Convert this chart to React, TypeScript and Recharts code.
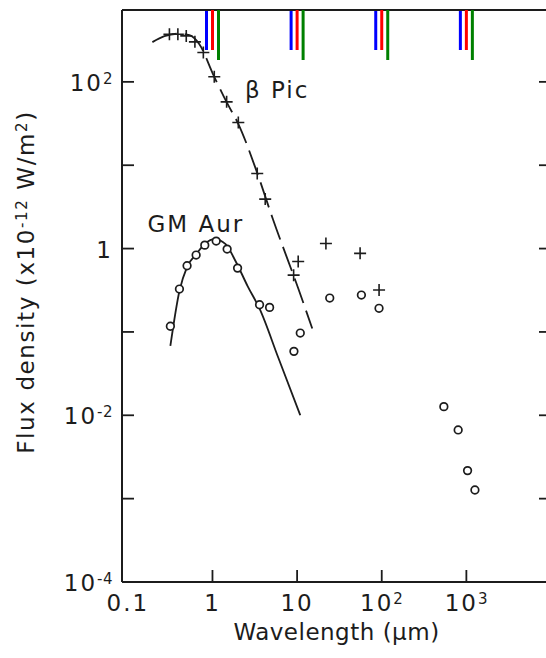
import { ComposedChart, Line, Scatter, XAxis, YAxis, ReferenceDot, ReferenceLine } from "recharts";

const INK = "#1c1c1c";
const FONT = "'DejaVu Sans', sans-serif";

const PIC_WAVE = [0.31, 0.39, 0.49, 0.62, 0.78, 1.05, 1.47, 2.02, 3.38, 4.2, 9.1, 10.3, 21.9, 55.5, 93];
const PIC_FLUX = [373, 373, 356, 302, 225, 115, 57.6, 32.6, 7.97, 3.92, 0.48, 0.7, 1.15, 0.876, 0.318];
const PIC_MODEL_WAVE = [0.195, 0.27, 0.385, 0.535, 0.7, 1.03, 1.47, 2.03, 3.32, 5.17, 10.2, 15.1];
const PIC_MODEL_FLUX = [300, 353, 378, 363, 283, 120, 57, 31, 8.5, 2.26, 0.343, 0.11];
const GM_WAVE = [0.318, 0.407, 0.501, 0.641, 0.811, 1.106, 1.49, 1.98, 3.6, 4.73, 9.17, 10.9, 24.3, 57.5, 92.9, 542, 800, 1033, 1262];
const GM_FLUX = [0.117, 0.327, 0.622, 0.836, 1.1, 1.23, 0.986, 0.583, 0.212, 0.197, 0.0585, 0.097, 0.255, 0.277, 0.192, 0.0127, 0.00667, 0.00217, 0.00127];
const GM_MODEL_WAVE = [0.318, 0.407, 0.5, 0.645, 0.826, 1.055, 1.43, 1.87, 2.6, 3.6, 6, 10.9];
const GM_MODEL_FLUX = [0.068, 0.31, 0.6, 0.86, 1.16, 1.3, 1.13, 0.71, 0.355, 0.19, 0.049, 0.01];

const X_DOMAIN = [0.0853, 10000];
const Y_DOMAIN = [1e-4, 728];
const X_TICKS = [0.1, 1, 10, 100, 1000];
const X_TICK_LABELS = [["0.1", ""], ["1", ""], ["10", ""], ["10", "2"], ["10", "3"]];
const Y_TICKS = [1e-4, 1e-3, 1e-2, 1e-1, 1, 10, 100];
const Y_TICK_LABELS = [["10", "-4"], ["", ""], ["10", "-2"], ["", ""], ["1", ""], ["", ""], ["10", "2"]];

const STAR_NAMES = ["β Pic", "GM Aur"];
const NAME_X = [2.45, 0.173];
const NAME_Y = [63.5, 1.54];

const zip = (xs: number[], ys: number[]) => xs.map((x, i) => ({ x, y: ys[i] }));
const picPoints = zip(PIC_WAVE, PIC_FLUX);
const picModel = zip(PIC_MODEL_WAVE, PIC_MODEL_FLUX);
const gmPoints = zip(GM_WAVE, GM_FLUX);
const gmModel = zip(GM_MODEL_WAVE, GM_MODEL_FLUX);
const topMarks = X_TICKS.slice(1).map((x) => ({ x, y: Y_DOMAIN[1] }));

function PowerLabel({ x, y, anchor, base, sup }: any) {
  return (
    <text x={x} y={y} textAnchor={anchor} fontFamily={FONT} fontSize={23} fill={INK} letterSpacing={2}>
      {base}
      {sup ? (
        <tspan dy={-7} fontSize={15} letterSpacing={0.5}>
          {sup}
        </tspan>
      ) : null}
    </text>
  );
}

const BottomTick = ({ x, y, payload }: any) => {
  const i = X_TICKS.indexOf(payload.value);
  const [base, sup] = X_TICK_LABELS[i] ?? ["", ""];
  return (
    <g>
      {i > 0 && <line x1={x} x2={x} y1={y} y2={y - 12} stroke={INK} strokeWidth={1.8} />}
      {i > 0 && <line x1={x + 6} x2={x + 6} y1={10} y2={60} stroke="green" strokeWidth={3} />}
      <PowerLabel x={x} y={y + 29} anchor="middle" base={base} sup={sup} />
    </g>
  );
};

const TopMark = ({ cx, cy }: any) => <path d={`M${cx},${cy}v40`} stroke="red" strokeWidth={3} fill="none" />;
const RefMark = (p: any) => {
  const top = Math.min(p.y1, p.y2);
  return <line x1={p.x1 - 6} x2={p.x1 - 6} y1={top} y2={top + 40} stroke="blue" strokeWidth={3} />;
};

const LeftTick = ({ x, y, payload }: any) => {
  const i = Y_TICKS.indexOf(payload.value);
  const [base, sup] = Y_TICK_LABELS[i] ?? ["", ""];
  return (
    <g>
      {i > 0 && <line x1={x} x2={x + 12} y1={y} y2={y} stroke={INK} strokeWidth={1.8} />}
      {base && <PowerLabel x={x - 9} y={y + 9} anchor="end" base={base} sup={sup} />}
    </g>
  );
};

const RightTick = ({ x, y, payload }: any) =>
  payload.value > 1e-4 ? <line x1={x} x2={x - 12} y1={y} y2={y} stroke={INK} strokeWidth={1.8} /> : <g />;

const Plus = ({ cx, cy }: any) => (
  <path d={`M${cx - 6},${cy}h12M${cx},${cy - 6}v12`} stroke={INK} strokeWidth={1.6} fill="none" />
);
const Ring = ({ cx, cy }: any) => <circle cx={cx} cy={cy} r={3.8} fill="#fff" stroke={INK} strokeWidth={1.7} />;

const XTitle = ({ viewBox }: any) => (
  <text x={viewBox.x + viewBox.width / 2} y={viewBox.y + 58} textAnchor="middle" fontFamily={FONT} fontSize={23} fill={INK} letterSpacing={0.5}>
    Wavelength (μm)
  </text>
);

const YTitle = () => (
  <text transform="translate(34,282) rotate(-90)" textAnchor="middle" fontFamily={FONT} fontSize={23} fill={INK} letterSpacing={1.6}>
    Flux density (x10
    <tspan dy={-7} fontSize={15}>-12</tspan>
    <tspan dy={7}> W/m</tspan>
    <tspan dy={-7} fontSize={15}>2</tspan>
    <tspan dy={7}>)</tspan>
  </text>
);

const axisLine = { stroke: INK, strokeWidth: 2 };

export default function App() {
  return (
    <div style={{ position: "absolute", left: 0, top: 0, width: 546, height: 658, overflow: "hidden", background: "#fff" }}>
      <ComposedChart width={560} height={658} margin={{ top: 0, right: 0, bottom: 0, left: 0 }}>
        <XAxis xAxisId="b" dataKey="x" type="number" scale="log" domain={X_DOMAIN} allowDataOverflow ticks={X_TICKS} interval={0} height={76} tickSize={0} tickMargin={0} tickLine={false} axisLine={axisLine} tick={(p: any) => <BottomTick {...p} />} label={XTitle} />
        <XAxis xAxisId="t" orientation="top" dataKey="x" type="number" scale="log" domain={X_DOMAIN} allowDataOverflow height={10} tickLine={false} tick={false} axisLine={axisLine} />
        <YAxis yAxisId="l" dataKey="y" type="number" scale="log" domain={Y_DOMAIN} allowDataOverflow ticks={Y_TICKS} interval={0} width={122} tickSize={0} tickMargin={0} tickLine={false} axisLine={axisLine} tick={(p: any) => <LeftTick {...p} />} label={YTitle} />
        <YAxis yAxisId="r" orientation="right" dataKey="y" type="number" scale="log" domain={Y_DOMAIN} allowDataOverflow ticks={Y_TICKS} interval={0} width={9} tickSize={0} tickMargin={0} tickLine={false} axisLine={axisLine} tick={(p: any) => <RightTick {...p} />} />
        {X_TICKS.slice(1).map((v) => (
          <ReferenceLine key={v} xAxisId="b" yAxisId="l" x={v} shape={RefMark} />
        ))}
        <Line xAxisId="b" yAxisId="l" data={picModel} dataKey="y" type="monotone" stroke={INK} strokeWidth={1.8} strokeDasharray="26 8" dot={false} activeDot={false} isAnimationActive={false} />
        <Line xAxisId="b" yAxisId="l" data={gmModel} dataKey="y" type="monotone" stroke={INK} strokeWidth={1.8} dot={false} activeDot={false} isAnimationActive={false} />
        <Scatter xAxisId="b" yAxisId="l" data={topMarks} dataKey="y" shape={TopMark} isAnimationActive={false} />
        <Scatter xAxisId="b" yAxisId="l" data={picPoints} dataKey="y" shape={Plus} isAnimationActive={false} />
        <Scatter xAxisId="b" yAxisId="l" data={gmPoints} dataKey="y" shape={Ring} isAnimationActive={false} />
        {STAR_NAMES.map((name, i) => (
          <ReferenceDot key={name} xAxisId="b" yAxisId="l" x={NAME_X[i]} y={NAME_Y[i]} r={0.5} fill="none" stroke="none"
            label={({ viewBox }: any) => (
              <text x={viewBox.x} y={viewBox.y} fontFamily={FONT} fontSize={23} fill={INK} letterSpacing={2}>{name}</text>
            )}
          />
        ))}
      </ComposedChart>
    </div>
  );
}
